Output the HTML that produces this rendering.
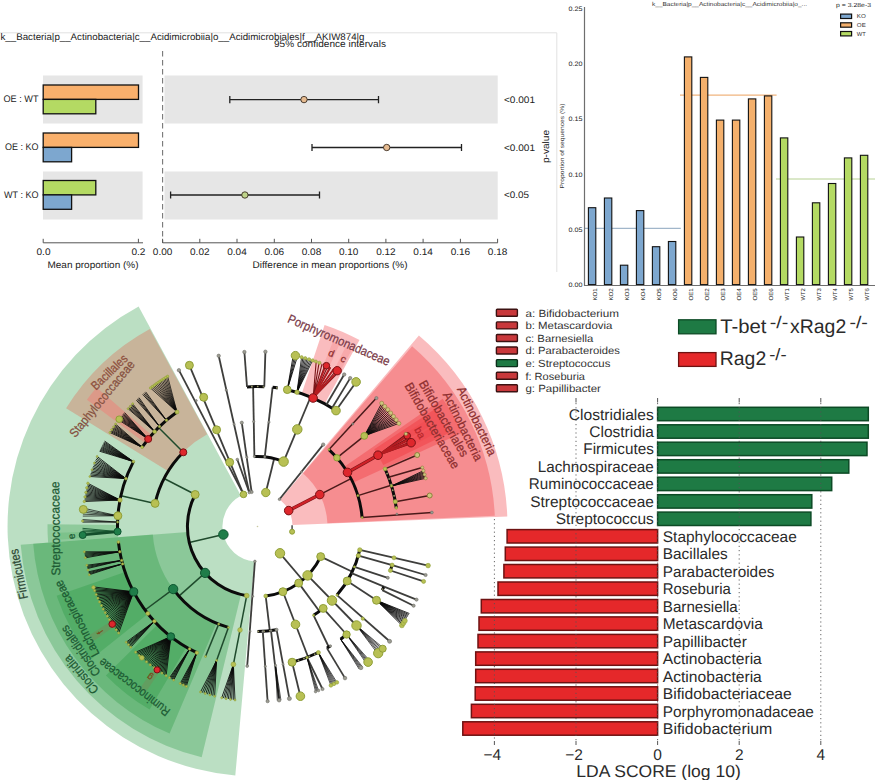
<!DOCTYPE html>
<html><head><meta charset="utf-8"><title>figure</title>
<style>html,body{margin:0;padding:0;background:#fff}svg{display:block}text{font-family:"Liberation Sans",sans-serif;text-rendering:geometricPrecision}</style></head><body>
<svg width="875" height="780" viewBox="0 0 875 780">
<rect width="875" height="780" fill="#fff"/>
<g id="pc">
<path d="M138.6 306.6A250 250 0 0 0 235.3 775.5L254.4 561.4A35 35 0 0 1 240.9 495.7Z" fill="rgb(30,148,55)" fill-opacity="0.3"/>
<path d="M20.7 544.7A237.5 237.5 0 0 0 201.7 757.3L241.0 594.5A70 70 0 0 1 187.7 531.9Z" fill="rgb(30,148,55)" fill-opacity="0.3"/>
<path d="M33.2 543.8A225 225 0 0 0 169.6 733.6L216.5 623.2A105 105 0 0 1 152.8 534.6Z" fill="rgb(30,148,55)" fill-opacity="0.3"/>
<path d="M56.6 595.7A212.5 212.5 0 0 0 91.4 659.1L148.1 613.8A140 140 0 0 1 125.1 572.1Z" fill="rgb(30,148,55)" fill-opacity="0.3"/>
<path d="M105.9 675.4A212.5 212.5 0 0 0 149.6 709.6L186.4 647.1A140 140 0 0 1 157.6 624.6Z" fill="rgb(30,148,55)" fill-opacity="0.3"/>
<path d="M47.5 524.3A210 210 0 0 0 48.1 542.6L117.9 537.2A140 140 0 0 1 117.5 525.0Z" fill="rgb(30,148,55)" fill-opacity="0.28"/>
<path d="M57.6 532.8A200 200 0 0 0 57.9 539.8L82.9 538.1A175 175 0 0 1 82.6 532.0Z" fill="rgb(30,148,55)" fill-opacity="0.15"/>
<path d="M149.8 329.0A225 225 0 0 0 66.1 408.3L168.2 471.3A105 105 0 0 1 207.2 434.3Z" fill="rgb(238,50,30)" fill-opacity="0.25"/>
<path d="M96.6 387.6A212.5 212.5 0 0 0 86.9 399.8L145.1 443.0A140 140 0 0 1 151.5 435.0Z" fill="rgb(245,120,115)" fill-opacity="0.45"/>
<path d="M89.6 635.1A200 200 0 0 0 93.5 640.9L114.0 626.6A175 175 0 0 1 110.6 621.6Z" fill="rgb(238,32,40)" fill-opacity="0.1"/>
<path d="M139.9 688.3A200 200 0 0 0 145.7 692.3L159.6 671.6A175 175 0 0 1 154.6 668.1Z" fill="rgb(238,32,40)" fill-opacity="0.1"/>
<path d="M507.3 516.5A250 250 0 0 0 418.9 335.6L280.1 499.8A35 35 0 0 1 292.5 525.1Z" fill="rgb(238,32,40)" fill-opacity="0.3"/>
<path d="M494.8 515.7A237.5 237.5 0 0 0 412.1 346.2L303.1 473.4A70 70 0 0 1 327.4 523.3Z" fill="rgb(238,32,40)" fill-opacity="0.3"/>
<path d="M462.1 432.8A225 225 0 0 0 442.7 398.7L343.9 466.9A105 105 0 0 1 353.0 482.8Z" fill="rgb(238,32,40)" fill-opacity="0.3"/>
<path d="M448.5 433.3A212.5 212.5 0 0 0 434.7 409.2L374.2 449.2A140 140 0 0 1 383.3 465.1Z" fill="rgb(238,32,40)" fill-opacity="0.3"/>
<path d="M434.7 433.8A200 200 0 0 0 431.4 427.7L409.7 440.1A175 175 0 0 1 412.6 445.4Z" fill="rgb(238,32,40)" fill-opacity="0.12"/>
<path d="M430.4 425.9A200 200 0 0 0 426.7 419.9L405.6 433.2A175 175 0 0 1 408.7 438.5Z" fill="rgb(238,32,40)" fill-opacity="0.12"/>
<path d="M359.5 340.1A212.5 212.5 0 0 0 324.6 324.9L301.7 393.7A140 140 0 0 1 324.7 403.7Z" fill="rgb(238,32,40)" fill-opacity="0.3"/>
<path d="M339.5 344.1A200 200 0 0 0 333.1 341.3L323.6 364.5A175 175 0 0 1 329.2 366.9Z" fill="rgb(238,32,40)" fill-opacity="0.12"/>
<path d="M351.7 350.1A200 200 0 0 0 345.5 346.9L334.5 369.3A175 175 0 0 1 339.9 372.1Z" fill="rgb(238,32,40)" fill-opacity="0.12"/>
<path d="M223.4 534.5L189.3 542.5" stroke="#1f4a2c" stroke-width="1.5" fill="none"/>
<path d="M195.2 494.5A70 70 0 0 0 246.7 595.7" stroke="#0b0b0b" stroke-width="3" fill="none"/>
<path d="M195.2 494.5L164.1 478.5" stroke="#1f4a2c" stroke-width="1.5" fill="none"/>
<path d="M183.3 452.3A105 105 0 0 0 155.1 503.4" stroke="#0b0b0b" stroke-width="3" fill="none"/>
<path d="M183.3 452.3L158.5 427.5" stroke="#1f4a2c" stroke-width="1.5" fill="none"/>
<path d="M177.0 412.0A140 140 0 0 0 142.1 447.2" stroke="#0b0b0b" stroke-width="3" fill="none"/>
<path d="M155.1 503.4L120.9 495.7" stroke="#1f4a2c" stroke-width="1.5" fill="none"/>
<path d="M133.4 461.6A140 140 0 0 0 117.6 531.6" stroke="#0b0b0b" stroke-width="3" fill="none"/>
<path d="M205.1 572.9L178.9 596.1" stroke="#1f4a2c" stroke-width="1.5" fill="none"/>
<path d="M173.2 589.1A105 105 0 0 0 228.4 627.4" stroke="#0b0b0b" stroke-width="3" fill="none"/>
<path d="M173.2 589.1L145.1 610.0" stroke="#1f4a2c" stroke-width="1.5" fill="none"/>
<path d="M118.4 542.1A140 140 0 0 0 196.8 652.7" stroke="#0b0b0b" stroke-width="3" fill="none"/>
<path d="M218.7 624.1L205.5 656.5" stroke="#1f4a2c" stroke-width="1.5" fill="none"/>
<path d="M228.4 627.4L216.6 660.4" stroke="#1f4a2c" stroke-width="1.5" fill="none"/>
<path d="M246.7 595.7L233.4 664.4" stroke="#1f4a2c" stroke-width="1.5" fill="none"/>
<path d="M254.9 561.4L247.2 666.1" stroke="#3e3e3c" stroke-width="1.8" fill="none"/>
<path d="M243.5 494.4L189.4 365.3" stroke="#3e3e3c" stroke-width="1.8" fill="none"/>
<path d="M243.5 494.4L178.9 370.2" stroke="#3e3e3c" stroke-width="1.8" fill="none"/>
<path d="M249.3 492.5L218.7 355.8" stroke="#3e3e3c" stroke-width="1.8" fill="none"/>
<path d="M251.6 492.0L241.8 422.7" stroke="#3e3e3c" stroke-width="1.8" fill="none"/>
<path d="M249.3 492.5L237.3 459.5" stroke="#3e3e3c" stroke-width="1.8" fill="none"/>
<path d="M265.8 492.5L274.2 458.5" stroke="#3e3e3c" stroke-width="1.8" fill="none"/>
<path d="M283.6 461.6A70 70 0 0 0 254.4 456.6" stroke="#0b0b0b" stroke-width="3" fill="none"/>
<path d="M254.4 456.6L253.1 386.6" stroke="#3e3e3c" stroke-width="1.8" fill="none"/>
<path d="M264.3 386.7A140 140 0 0 0 247.0 386.9" stroke="#0b0b0b" stroke-width="3" fill="none"/>
<path d="M264.3 386.7A140 140 0 0 0 247.0 386.9" stroke="#9a9a6a" stroke-width="1.6" stroke-dasharray="1.6 4.2" fill="none"/>
<path d="M247.0 386.9L244.4 352.0" stroke="#3e3e3c" stroke-width="1.8" fill="none"/>
<path d="M264.3 386.7L265.4 351.7" stroke="#3e3e3c" stroke-width="1.8" fill="none"/>
<path d="M264.8 456.9L272.6 387.3" stroke="#3e3e3c" stroke-width="1.8" fill="none"/>
<path d="M277.7 388.0A140 140 0 0 0 272.6 387.3" stroke="#0b0b0b" stroke-width="3" fill="none"/>
<path d="M277.7 388.0A140 140 0 0 0 272.6 387.3" stroke="#9a9a6a" stroke-width="1.6" stroke-dasharray="1.6 4.2" fill="none"/>
<path d="M283.6 461.6L310.6 397.0" stroke="#3e3e3c" stroke-width="1.8" fill="none"/>
<path d="M336.0 410.6A140 140 0 0 0 287.3 389.7" stroke="#0b0b0b" stroke-width="3" fill="none"/>
<path d="M326.4 404.7L344.2 374.5" stroke="#3e3e3c" stroke-width="1.8" fill="none"/>
<path d="M332.1 408.0L350.2 378.1" stroke="#3e3e3c" stroke-width="1.8" fill="none"/>
<path d="M336.0 410.6L356.1 381.9" stroke="#3e3e3c" stroke-width="1.8" fill="none"/>
<path d="M279.5 499.3L323.2 444.6" stroke="#3e3e3c" stroke-width="1.8" fill="none"/>
<path d="M288.7 510.6L319.8 494.6" stroke="#7e1518" stroke-width="3.4" fill="none" stroke-linecap="round"/>
<path d="M288.7 510.6L319.8 494.6" stroke="#cf2127" stroke-width="2.2" fill="none" stroke-linecap="round"/>
<path d="M319.8 494.6L351.0 478.7" stroke="#4a1a1a" stroke-width="1.5" fill="none"/>
<path d="M362.1 517.5A105 105 0 0 0 329.0 449.6" stroke="#0b0b0b" stroke-width="3" fill="none"/>
<path d="M329.0 449.6L376.4 398.1" stroke="#4a1a1a" stroke-width="1.5" fill="none"/>
<path d="M336.9 457.8L364.3 435.9" stroke="#4a1a1a" stroke-width="1.5" fill="none"/>
<path d="M347.5 472.4L378.0 455.2" stroke="#7e1518" stroke-width="3.4" fill="none" stroke-linecap="round"/>
<path d="M347.5 472.4L378.0 455.2" stroke="#cf2127" stroke-width="2.2" fill="none" stroke-linecap="round"/>
<path d="M357.9 495.6L391.3 485.3" stroke="#4a1a1a" stroke-width="1.5" fill="none"/>
<path d="M396.3 508.0A140 140 0 0 0 385.1 468.9" stroke="#0b0b0b" stroke-width="3" fill="none"/>
<path d="M396.3 508.0A140 140 0 0 0 385.1 468.9" stroke="#9a9a6a" stroke-width="1.6" stroke-dasharray="1.6 4.2" fill="none"/>
<path d="M385.1 468.9L417.2 455.0" stroke="#4a1a1a" stroke-width="1.5" fill="none"/>
<path d="M388.5 477.2L422.3 467.5" stroke="#4a1a1a" stroke-width="1.5" fill="none"/>
<path d="M395.3 501.7L429.7 495.5" stroke="#4a1a1a" stroke-width="1.5" fill="none"/>
<path d="M362.1 517.5L431.9 512.5" stroke="#4a1a1a" stroke-width="1.5" fill="none"/>
<path d="M292.1 525.2V531.7" stroke="#555" stroke-width="1.6" fill="none"/>
<path d="M280.0 553.3L302.6 580.0" stroke="#3e3e3c" stroke-width="1.8" fill="none"/>
<path d="M265.7 596.0A70 70 0 0 0 320.7 556.6" stroke="#0b0b0b" stroke-width="3" fill="none"/>
<path d="M320.7 556.6L352.3 571.7" stroke="#3e3e3c" stroke-width="1.8" fill="none"/>
<path d="M337.0 595.1A105 105 0 0 0 359.8 549.9" stroke="#0b0b0b" stroke-width="3" fill="none"/>
<path d="M359.8 549.9L428.1 565.6" stroke="#3e3e3c" stroke-width="1.8" fill="none"/>
<path d="M358.4 555.6L392.1 565.1" stroke="#3e3e3c" stroke-width="1.8" fill="none"/>
<path d="M390.4 570.5A140 140 0 0 0 392.1 565.1" stroke="#0b0b0b" stroke-width="3" fill="none"/>
<path d="M390.4 570.5A140 140 0 0 0 392.1 565.1" stroke="#9a9a6a" stroke-width="1.6" stroke-dasharray="1.6 4.2" fill="none"/>
<path d="M392.1 565.1L425.6 575.0" stroke="#3e3e3c" stroke-width="1.8" fill="none"/>
<path d="M390.4 570.5L423.6 581.4" stroke="#3e3e3c" stroke-width="1.8" fill="none"/>
<path d="M354.4 566.9L387.8 577.8" stroke="#3e3e3c" stroke-width="1.8" fill="none"/>
<path d="M351.5 573.2L384.0 586.6" stroke="#3e3e3c" stroke-width="1.8" fill="none"/>
<path d="M382.2 590.1A140 140 0 0 0 384.0 586.6" stroke="#0b0b0b" stroke-width="3" fill="none"/>
<path d="M382.2 590.1A140 140 0 0 0 384.0 586.6" stroke="#9a9a6a" stroke-width="1.6" stroke-dasharray="1.6 4.2" fill="none"/>
<path d="M384.0 586.6L416.5 599.6" stroke="#3e3e3c" stroke-width="1.8" fill="none"/>
<path d="M382.2 590.1L413.6 605.7" stroke="#3e3e3c" stroke-width="1.8" fill="none"/>
<path d="M347.2 581.0L376.5 600.3" stroke="#3e3e3c" stroke-width="1.8" fill="none"/>
<path d="M337.0 595.1L389.6 641.3" stroke="#3e3e3c" stroke-width="1.8" fill="none"/>
<path d="M307.6 575.4L356.5 625.5" stroke="#3e3e3c" stroke-width="1.8" fill="none"/>
<path d="M298.7 583.1L319.4 611.3" stroke="#3e3e3c" stroke-width="1.8" fill="none"/>
<path d="M313.6 615.3A105 105 0 0 0 323.2 608.4" stroke="#0b0b0b" stroke-width="3" fill="none"/>
<path d="M323.2 608.4L346.6 634.5" stroke="#3e3e3c" stroke-width="1.8" fill="none"/>
<path d="M340.6 639.2A140 140 0 0 0 346.6 634.5" stroke="#0b0b0b" stroke-width="3" fill="none"/>
<path d="M313.6 615.3L328.8 647.0" stroke="#3e3e3c" stroke-width="1.8" fill="none"/>
<path d="M326.9 648.1A140 140 0 0 0 330.4 646.0" stroke="#0b0b0b" stroke-width="3" fill="none"/>
<path d="M326.9 648.1L345.0 678.1" stroke="#3e3e3c" stroke-width="1.8" fill="none"/>
<path d="M282.9 591.7L308.1 657.0" stroke="#3e3e3c" stroke-width="1.8" fill="none"/>
<path d="M292.1 662.2A140 140 0 0 0 318.4 652.5" stroke="#0b0b0b" stroke-width="3" fill="none"/>
<path d="M292.1 662.2A140 140 0 0 0 318.4 652.5" stroke="#9a9a6a" stroke-width="1.6" stroke-dasharray="1.6 4.2" fill="none"/>
<path d="M307.0 657.5L322.5 689.0" stroke="#3e3e3c" stroke-width="1.8" fill="none"/>
<path d="M292.1 662.2L300.4 696.2" stroke="#3e3e3c" stroke-width="1.8" fill="none"/>
<path d="M265.7 596.0L269.8 630.8" stroke="#3e3e3c" stroke-width="1.8" fill="none"/>
<path d="M257.5 631.5A105 105 0 0 0 276.6 629.7" stroke="#0b0b0b" stroke-width="3" fill="none"/>
<path d="M257.5 631.5A105 105 0 0 0 276.6 629.7" stroke="#9a9a6a" stroke-width="1.6" stroke-dasharray="1.6 4.2" fill="none"/>
<path d="M262.8 631.4L267.6 701.2" stroke="#3e3e3c" stroke-width="1.8" fill="none"/>
<path d="M271.0 630.6L279.1 700.2" stroke="#3e3e3c" stroke-width="1.8" fill="none"/>
<path d="M276.6 629.7L289.4 698.6" stroke="#3e3e3c" stroke-width="1.8" fill="none"/>
<path d="M142.1 447.2L115.6 424.1M142.1 447.2L114.9 425.0M142.1 447.2L114.3 426.0M142.1 447.2L113.6 426.9M142.1 447.2L113.0 427.8M142.1 447.2L112.4 428.7M142.1 447.2L111.7 429.7M142.1 447.2L111.1 430.6M142.1 447.2L110.5 431.5M142.1 447.2L109.9 432.5" stroke="#0a0a0a" stroke-width="0.85" fill="none"/>
<path d="M148.2 439.0L124.6 412.6M148.2 439.0L123.9 413.4M148.2 439.0L123.3 414.2M148.2 439.0L122.6 415.0M148.2 439.0L121.9 415.8M148.2 439.0L121.3 416.7M148.2 439.0L120.6 417.5M148.2 439.0L120.0 418.3M148.2 439.0L119.3 419.1M148.2 439.0L118.7 420.0" stroke="#0a0a0a" stroke-width="0.85" fill="none"/>
<path d="M154.6 431.6L132.7 403.8M154.6 431.6L131.9 404.6M154.6 431.6L131.1 405.4M154.6 431.6L130.3 406.3M154.6 431.6L129.6 407.1M154.6 431.6L128.8 407.9M154.6 431.6L128.1 408.7" stroke="#0a0a0a" stroke-width="0.85" fill="none"/>
<path d="M159.5 426.5L139.0 397.7M159.5 426.5L138.2 398.5M159.5 426.5L137.3 399.3M159.5 426.5L136.4 400.2" stroke="#0a0a0a" stroke-width="0.85" fill="none"/>
<path d="M166.4 420.2L145.7 391.9M166.4 420.2L144.7 392.7M166.4 420.2L143.7 393.6M166.4 420.2L142.7 394.4" stroke="#0a0a0a" stroke-width="0.85" fill="none"/>
<path d="M177.0 412.0L167.6 376.3M177.0 412.0L166.3 377.2M177.0 412.0L164.9 378.0M177.0 412.0L163.6 378.9M177.0 412.0L162.2 379.7M177.0 412.0L160.9 380.6M177.0 412.0L159.5 381.5M177.0 412.0L158.2 382.4M177.0 412.0L156.9 383.3M177.0 412.0L155.6 384.2M177.0 412.0L154.3 385.2M177.0 412.0L153.0 386.1M177.0 412.0L151.8 387.1M177.0 412.0L150.5 388.0" stroke="#0a0a0a" stroke-width="0.75" fill="none"/>
<path d="M133.4 461.6L104.7 441.1M133.4 461.6L104.2 442.0M133.4 461.6L103.7 442.9M133.4 461.6L103.3 443.8M133.4 461.6L102.8 444.7M133.4 461.6L102.3 445.6M133.4 461.6L101.8 446.6M133.4 461.6L101.4 447.5M133.4 461.6L100.9 448.4M133.4 461.6L100.4 449.3M133.4 461.6L100.0 450.2M133.4 461.6L99.5 451.2" stroke="#0a0a0a" stroke-width="0.85" fill="none"/>
<path d="M125.9 478.6L97.1 456.4M125.9 478.6L96.5 457.8M125.9 478.6L95.9 459.2M125.9 478.6L95.4 460.7M125.9 478.6L94.8 462.1M125.9 478.6L94.2 463.5M125.9 478.6L93.7 464.9M125.9 478.6L93.2 466.4M125.9 478.6L92.6 467.8M125.9 478.6L92.1 469.2M125.9 478.6L91.6 470.7M125.9 478.6L91.2 472.1M125.9 478.6L90.7 473.6M125.9 478.6L90.2 475.0M125.9 478.6L89.8 476.5" stroke="#0a0a0a" stroke-width="0.85" fill="none"/>
<path d="M120.0 500.0L87.9 483.3M120.0 500.0L87.6 484.6M120.0 500.0L87.3 485.9M120.0 500.0L87.0 487.2M120.0 500.0L86.7 488.5M120.0 500.0L86.4 489.8M120.0 500.0L86.1 491.1M120.0 500.0L85.9 492.4M120.0 500.0L85.6 493.7M120.0 500.0L85.4 495.0M120.0 500.0L85.1 496.3M120.0 500.0L84.9 497.6M120.0 500.0L84.7 498.9M120.0 500.0L84.5 500.2M120.0 500.0L84.3 501.5" stroke="#0a0a0a" stroke-width="0.85" fill="none"/>
<path d="M117.9 515.8L83.5 508.2M117.9 515.8L83.3 510.2M117.9 515.8L83.1 512.2M117.9 515.8L82.9 514.1M117.9 515.8L82.8 516.1" stroke="#0a0a0a" stroke-width="0.7" fill="none"/>
<path d="M117.6 522.1L82.6 519.5M117.6 522.1L82.6 520.9M117.6 522.1L82.6 522.2" stroke="#0a0a0a" stroke-width="0.7" fill="none"/>
<path d="M117.6 531.6L82.5 528.3M117.6 531.6L82.5 530.0M117.6 531.6L82.6 531.7M117.6 531.6L82.6 533.4M117.6 531.6L82.7 535.0" stroke="#14522e" stroke-width="0.9" fill="none"/>
<path d="M117.6 531.6L82.7 535.0" stroke="#134d2b" stroke-width="2.6" fill="none"/>
<path d="M119.8 551.8L84.3 551.8M119.8 551.8L84.5 553.0M119.8 551.8L84.7 554.2M119.8 551.8L84.9 555.4M119.8 551.8L85.1 556.6M119.8 551.8L85.3 557.8" stroke="#0a0a0a" stroke-width="0.85" fill="none"/>
<path d="M121.7 560.4L86.8 565.3M121.7 560.4L87.1 566.4M121.7 560.4L87.4 567.5M121.7 560.4L87.6 568.5" stroke="#0a0a0a" stroke-width="0.85" fill="none"/>
<path d="M122.6 563.9L88.5 571.8M122.6 563.9L88.7 572.8M122.6 563.9L89.0 573.8M122.6 563.9L89.3 574.7" stroke="#0a0a0a" stroke-width="0.85" fill="none"/>
<path d="M133.7 591.8L93.3 586.9M133.7 591.8L93.9 588.5M133.7 591.8L94.5 590.1M133.7 591.8L95.1 591.7M133.7 591.8L95.7 593.3M133.7 591.8L96.4 594.9M133.7 591.8L97.1 596.4M133.7 591.8L97.8 598.0M133.7 591.8L98.5 599.5M133.7 591.8L99.2 601.1M133.7 591.8L99.9 602.6M133.7 591.8L100.7 604.1M133.7 591.8L101.4 605.7M133.7 591.8L102.2 607.2M133.7 591.8L103.0 608.7M133.7 591.8L103.8 610.2M133.7 591.8L104.6 611.7M133.7 591.8L105.5 613.2M133.7 591.8L106.3 614.6M133.7 591.8L107.2 616.1M133.7 591.8L108.1 617.6M133.7 591.8L109.0 619.0M133.7 591.8L109.9 620.5M133.7 591.8L110.8 621.9M133.7 591.8L111.7 623.3M133.7 591.8L112.7 624.7M133.7 591.8L113.6 626.1M133.7 591.8L114.6 627.5M133.7 591.8L115.6 628.9M133.7 591.8L116.6 630.3M133.7 591.8L117.6 631.7M133.7 591.8L118.7 633.0" stroke="#0a0a0a" stroke-width="0.85" fill="none"/>
<path d="M154.4 621.3L126.2 642.2M154.4 621.3L127.0 643.1M154.4 621.3L127.7 643.9M154.4 621.3L128.5 644.7M154.4 621.3L129.2 645.6M154.4 621.3L130.0 646.4M154.4 621.3L130.8 647.2" stroke="#0a0a0a" stroke-width="0.85" fill="none"/>
<path d="M170.9 636.5L135.7 652.2M170.9 636.5L136.8 653.2M170.9 636.5L137.9 654.3M170.9 636.5L139.1 655.3M170.9 636.5L140.2 656.4M170.9 636.5L141.4 657.4M170.9 636.5L142.5 658.4M170.9 636.5L143.7 659.4M170.9 636.5L144.9 660.4M170.9 636.5L146.0 661.4M170.9 636.5L147.2 662.4M170.9 636.5L148.4 663.3M170.9 636.5L149.6 664.3M170.9 636.5L150.9 665.2M170.9 636.5L152.1 666.2M170.9 636.5L153.3 667.1M170.9 636.5L154.5 668.0M170.9 636.5L155.8 668.9M170.9 636.5L157.1 669.8M170.9 636.5L158.3 670.7M170.9 636.5L159.6 671.5M170.9 636.5L160.9 672.4M170.9 636.5L162.2 673.2M170.9 636.5L163.5 674.1M170.9 636.5L164.8 674.9M170.9 636.5L166.1 675.7" stroke="#0a0a0a" stroke-width="0.85" fill="none"/>
<path d="M189.6 648.9L169.5 677.7M189.6 648.9L170.3 678.2M189.6 648.9L171.2 678.7M189.6 648.9L172.0 679.2M189.6 648.9L172.9 679.7M189.6 648.9L173.7 680.1" stroke="#0a0a0a" stroke-width="0.85" fill="none"/>
<path d="M196.8 652.7L180.2 683.5M196.8 652.7L181.2 684.0M196.8 652.7L182.3 684.5M196.8 652.7L183.3 685.0M196.8 652.7L184.3 685.4M196.8 652.7L185.3 685.9M196.8 652.7L186.3 686.4" stroke="#0a0a0a" stroke-width="0.85" fill="none"/>
<path d="M216.6 660.4L200.5 692.0M216.6 660.4L202.3 692.6M216.6 660.4L204.0 693.1M216.6 660.4L205.8 693.7M216.6 660.4L207.5 694.2M216.6 660.4L209.3 694.7M216.6 660.4L211.0 695.2M216.6 660.4L212.8 695.7M216.6 660.4L214.6 696.2" stroke="#0a0a0a" stroke-width="0.85" fill="none"/>
<path d="M233.4 664.4L221.7 697.8M233.4 664.4L223.4 698.1M233.4 664.4L225.0 698.5M233.4 664.4L226.7 698.8M233.4 664.4L228.3 699.0M233.4 664.4L230.0 699.3M233.4 664.4L231.6 699.6M233.4 664.4L233.3 699.8M233.4 664.4L235.0 700.0" stroke="#0a0a0a" stroke-width="0.85" fill="none"/>
<path d="M287.3 389.7L297.5 356.1M287.3 389.7L296.1 355.8M287.3 389.7L294.7 355.5M287.3 389.7L293.3 355.2" stroke="#0a0a0a" stroke-width="0.9" fill="none"/>
<path d="M297.0 392.2L312.7 360.4M297.0 392.2L311.4 360.0M297.0 392.2L310.0 359.6M297.0 392.2L308.6 359.1M297.0 392.2L307.2 358.7M297.0 392.2L305.8 358.3M297.0 392.2L304.4 357.9M297.0 392.2L303.0 357.5M297.0 392.2L301.6 357.2" stroke="#0a0a0a" stroke-width="0.85" fill="none"/>
<path d="M313.1 398.0L339.1 371.7M313.1 398.0L336.3 370.3M313.1 398.0L333.5 368.9M313.1 398.0L330.7 367.5M313.1 398.0L327.8 366.3M313.1 398.0L325.0 365.0M313.1 398.0L322.1 363.8M313.1 398.0L319.1 362.7M313.1 398.0L316.2 361.6" stroke="#7a1518" stroke-width="1.1" fill="none"/>
<path d="M313.1 398.0L338.0 371.1M313.1 398.0L334.0 369.1M313.1 398.0L330.0 367.2M313.1 398.0L325.9 365.4" stroke="#b41c20" stroke-width="1.6" fill="none"/>
<path d="M364.3 435.9L398.9 423.4M364.3 435.9L397.8 422.0M364.3 435.9L396.8 420.5M364.3 435.9L395.7 419.1M364.3 435.9L394.6 417.8M364.3 435.9L393.5 416.4M364.3 435.9L392.4 415.0M364.3 435.9L391.2 413.6M364.3 435.9L390.1 412.3M364.3 435.9L388.9 411.0M364.3 435.9L387.8 409.6M364.3 435.9L386.6 408.3M364.3 435.9L385.4 407.0M364.3 435.9L384.1 405.7M364.3 435.9L382.9 404.5M364.3 435.9L381.7 403.2" stroke="#0a0a0a" stroke-width="0.85" fill="none"/>
<path d="M378.0 455.2L411.6 443.5M378.0 455.2L410.6 441.7M378.0 455.2L409.5 439.8M378.0 455.2L408.4 437.9M378.0 455.2L407.3 436.1M378.0 455.2L406.2 434.3" stroke="#7a1518" stroke-width="1.2" fill="none"/>
<path d="M378.0 455.2L411.1 442.7M378.0 455.2L409.2 439.3M378.0 455.2L407.2 435.8" stroke="#b41c20" stroke-width="1.8" fill="none"/>
<path d="M391.5 486.0L425.7 478.3M391.5 486.0L425.4 477.2M391.5 486.0L425.1 476.1M391.5 486.0L424.8 475.0M391.5 486.0L424.4 473.9M391.5 486.0L424.1 472.8M391.5 486.0L423.7 471.8M391.5 486.0L423.4 470.7" stroke="#0a0a0a" stroke-width="0.85" fill="none"/>
<path d="M376.5 600.3L401.9 625.4M376.5 600.3L402.6 624.4M376.5 600.3L403.2 623.4M376.5 600.3L403.9 622.5M376.5 600.3L404.5 621.5M376.5 600.3L405.1 620.5M376.5 600.3L405.7 619.5M376.5 600.3L406.4 618.5M376.5 600.3L407.0 617.5M376.5 600.3L407.6 616.5M376.5 600.3L408.2 615.5M376.5 600.3L408.8 614.5M376.5 600.3L409.4 613.5" stroke="#0a0a0a" stroke-width="0.85" fill="none"/>
<path d="M356.5 625.5L377.7 653.7M356.5 625.5L378.7 652.7M356.5 625.5L379.6 651.8M356.5 625.5L380.6 650.9M356.5 625.5L381.5 650.0M356.5 625.5L382.5 649.0M356.5 625.5L383.4 648.1" stroke="#0a0a0a" stroke-width="0.7" fill="none"/>
<path d="M346.6 634.5L366.4 663.5M346.6 634.5L367.3 662.8M346.6 634.5L368.1 662.1M346.6 634.5L368.9 661.4M346.6 634.5L369.8 660.8" stroke="#0a0a0a" stroke-width="0.7" fill="none"/>
<path d="M340.6 639.2L359.1 669.0M340.6 639.2L359.9 668.4M340.6 639.2L360.7 667.8M340.6 639.2L361.5 667.2M340.6 639.2L362.3 666.6" stroke="#0a0a0a" stroke-width="0.7" fill="none"/>
<path d="M318.4 652.5L330.9 685.4M318.4 652.5L331.9 684.9M318.4 652.5L332.9 684.4M318.4 652.5L333.9 683.9M318.4 652.5L334.9 683.4M318.4 652.5L335.9 682.9M318.4 652.5L336.9 682.4" stroke="#0a0a0a" stroke-width="0.7" fill="none"/>
<path d="M307.0 657.5L315.6 691.6M307.0 657.5L316.6 691.2M307.0 657.5L317.5 690.9M307.0 657.5L318.5 690.5" stroke="#0a0a0a" stroke-width="0.7" fill="none"/>
<path d="M275.5 665.3L277.3 700.4M275.5 665.3L278.5 700.2M275.5 665.3L279.7 700.1M275.5 665.3L280.9 699.9" stroke="#0a0a0a" stroke-width="0.7" fill="none"/>
<circle cx="167.6" cy="376.3" r="1.2" fill="#b8c054" stroke="#8f9f37" stroke-width="0.6"/>
<circle cx="165.7" cy="377.5" r="1.2" fill="#b8c054" stroke="#8f9f37" stroke-width="0.6"/>
<circle cx="163.7" cy="378.8" r="1.2" fill="#b8c054" stroke="#8f9f37" stroke-width="0.6"/>
<circle cx="161.8" cy="380.0" r="1.2" fill="#b8c054" stroke="#8f9f37" stroke-width="0.6"/>
<circle cx="159.8" cy="381.3" r="1.2" fill="#b8c054" stroke="#8f9f37" stroke-width="0.6"/>
<circle cx="157.9" cy="382.6" r="1.2" fill="#b8c054" stroke="#8f9f37" stroke-width="0.6"/>
<circle cx="156.0" cy="383.9" r="1.2" fill="#b8c054" stroke="#8f9f37" stroke-width="0.6"/>
<circle cx="154.2" cy="385.3" r="1.2" fill="#b8c054" stroke="#8f9f37" stroke-width="0.6"/>
<circle cx="152.3" cy="386.6" r="1.2" fill="#b8c054" stroke="#8f9f37" stroke-width="0.6"/>
<circle cx="150.5" cy="388.0" r="1.2" fill="#b8c054" stroke="#8f9f37" stroke-width="0.6"/>
<circle cx="115.6" cy="424.1" r="1.0" fill="#b8c054" stroke="#8f9f37" stroke-width="0.6"/>
<circle cx="113.6" cy="426.9" r="1.0" fill="#b8c054" stroke="#8f9f37" stroke-width="0.6"/>
<circle cx="111.7" cy="429.7" r="1.0" fill="#b8c054" stroke="#8f9f37" stroke-width="0.6"/>
<circle cx="109.9" cy="432.5" r="1.0" fill="#b8c054" stroke="#8f9f37" stroke-width="0.6"/>
<circle cx="132.7" cy="403.8" r="1.0" fill="#b8c054" stroke="#8f9f37" stroke-width="0.6"/>
<circle cx="130.3" cy="406.3" r="1.0" fill="#b8c054" stroke="#8f9f37" stroke-width="0.6"/>
<circle cx="128.1" cy="408.7" r="1.0" fill="#b8c054" stroke="#8f9f37" stroke-width="0.6"/>
<circle cx="87.9" cy="483.3" r="1.2" fill="#b8c054" stroke="#8f9f37" stroke-width="0.6"/>
<circle cx="86.8" cy="487.8" r="1.2" fill="#b8c054" stroke="#8f9f37" stroke-width="0.6"/>
<circle cx="85.9" cy="492.4" r="1.2" fill="#b8c054" stroke="#8f9f37" stroke-width="0.6"/>
<circle cx="85.0" cy="496.9" r="1.2" fill="#b8c054" stroke="#8f9f37" stroke-width="0.6"/>
<circle cx="84.3" cy="501.5" r="1.2" fill="#b8c054" stroke="#8f9f37" stroke-width="0.6"/>
<circle cx="97.1" cy="456.4" r="0.9" fill="#b8c054" stroke="#8f9f37" stroke-width="0.6"/>
<circle cx="94.4" cy="463.0" r="0.9" fill="#b8c054" stroke="#8f9f37" stroke-width="0.6"/>
<circle cx="92.0" cy="469.7" r="0.9" fill="#b8c054" stroke="#8f9f37" stroke-width="0.6"/>
<circle cx="89.8" cy="476.5" r="0.9" fill="#b8c054" stroke="#8f9f37" stroke-width="0.6"/>
<circle cx="93.3" cy="586.9" r="1.1" fill="#b8c054" stroke="#8f9f37" stroke-width="0.6"/>
<circle cx="94.7" cy="590.7" r="1.1" fill="#b8c054" stroke="#8f9f37" stroke-width="0.6"/>
<circle cx="96.2" cy="594.5" r="1.1" fill="#b8c054" stroke="#8f9f37" stroke-width="0.6"/>
<circle cx="97.9" cy="598.2" r="1.1" fill="#b8c054" stroke="#8f9f37" stroke-width="0.6"/>
<circle cx="99.6" cy="601.9" r="1.1" fill="#b8c054" stroke="#8f9f37" stroke-width="0.6"/>
<circle cx="101.4" cy="605.6" r="1.1" fill="#b8c054" stroke="#8f9f37" stroke-width="0.6"/>
<circle cx="103.2" cy="609.2" r="1.1" fill="#b8c054" stroke="#8f9f37" stroke-width="0.6"/>
<circle cx="105.2" cy="612.7" r="1.1" fill="#b8c054" stroke="#8f9f37" stroke-width="0.6"/>
<circle cx="107.3" cy="616.2" r="1.1" fill="#b8c054" stroke="#8f9f37" stroke-width="0.6"/>
<circle cx="109.4" cy="619.7" r="1.1" fill="#b8c054" stroke="#8f9f37" stroke-width="0.6"/>
<circle cx="111.6" cy="623.1" r="1.1" fill="#b8c054" stroke="#8f9f37" stroke-width="0.6"/>
<circle cx="113.9" cy="626.5" r="1.1" fill="#b8c054" stroke="#8f9f37" stroke-width="0.6"/>
<circle cx="116.2" cy="629.8" r="1.1" fill="#b8c054" stroke="#8f9f37" stroke-width="0.6"/>
<circle cx="118.7" cy="633.0" r="1.1" fill="#b8c054" stroke="#8f9f37" stroke-width="0.6"/>
<circle cx="135.7" cy="652.2" r="1.1" fill="#b8c054" stroke="#8f9f37" stroke-width="0.6"/>
<circle cx="139.2" cy="655.5" r="1.1" fill="#b8c054" stroke="#8f9f37" stroke-width="0.6"/>
<circle cx="142.8" cy="658.7" r="1.1" fill="#b8c054" stroke="#8f9f37" stroke-width="0.6"/>
<circle cx="146.5" cy="661.8" r="1.1" fill="#b8c054" stroke="#8f9f37" stroke-width="0.6"/>
<circle cx="150.2" cy="664.8" r="1.1" fill="#b8c054" stroke="#8f9f37" stroke-width="0.6"/>
<circle cx="154.1" cy="667.7" r="1.1" fill="#b8c054" stroke="#8f9f37" stroke-width="0.6"/>
<circle cx="158.0" cy="670.5" r="1.1" fill="#b8c054" stroke="#8f9f37" stroke-width="0.6"/>
<circle cx="162.0" cy="673.1" r="1.1" fill="#b8c054" stroke="#8f9f37" stroke-width="0.6"/>
<circle cx="166.1" cy="675.7" r="1.1" fill="#b8c054" stroke="#8f9f37" stroke-width="0.6"/>
<circle cx="84.3" cy="551.8" r="1.0" fill="#b8c054" stroke="#8f9f37" stroke-width="0.6"/>
<circle cx="85.3" cy="557.8" r="1.0" fill="#b8c054" stroke="#8f9f37" stroke-width="0.6"/>
<circle cx="86.8" cy="565.3" r="1.0" fill="#b8c054" stroke="#8f9f37" stroke-width="0.6"/>
<circle cx="88.0" cy="570.0" r="1.0" fill="#b8c054" stroke="#8f9f37" stroke-width="0.6"/>
<circle cx="89.3" cy="574.7" r="1.0" fill="#b8c054" stroke="#8f9f37" stroke-width="0.6"/>
<circle cx="126.2" cy="642.2" r="1.0" fill="#b8c054" stroke="#8f9f37" stroke-width="0.6"/>
<circle cx="128.5" cy="644.7" r="1.0" fill="#b8c054" stroke="#8f9f37" stroke-width="0.6"/>
<circle cx="130.8" cy="647.2" r="1.0" fill="#b8c054" stroke="#8f9f37" stroke-width="0.6"/>
<circle cx="169.5" cy="677.7" r="1.0" fill="#b8c054" stroke="#8f9f37" stroke-width="0.6"/>
<circle cx="173.7" cy="680.1" r="1.0" fill="#b8c054" stroke="#8f9f37" stroke-width="0.6"/>
<circle cx="180.2" cy="683.5" r="1.1" fill="#b8c054" stroke="#8f9f37" stroke-width="0.6"/>
<circle cx="183.3" cy="685.0" r="1.1" fill="#b8c054" stroke="#8f9f37" stroke-width="0.6"/>
<circle cx="186.3" cy="686.4" r="1.1" fill="#b8c054" stroke="#8f9f37" stroke-width="0.6"/>
<circle cx="200.5" cy="692.0" r="1.0" fill="#b8c054" stroke="#8f9f37" stroke-width="0.6"/>
<circle cx="205.2" cy="693.5" r="1.0" fill="#b8c054" stroke="#8f9f37" stroke-width="0.6"/>
<circle cx="209.9" cy="694.9" r="1.0" fill="#b8c054" stroke="#8f9f37" stroke-width="0.6"/>
<circle cx="214.6" cy="696.2" r="1.0" fill="#b8c054" stroke="#8f9f37" stroke-width="0.6"/>
<circle cx="221.7" cy="697.8" r="1.0" fill="#b8c054" stroke="#8f9f37" stroke-width="0.6"/>
<circle cx="226.1" cy="698.7" r="1.0" fill="#b8c054" stroke="#8f9f37" stroke-width="0.6"/>
<circle cx="230.5" cy="699.4" r="1.0" fill="#b8c054" stroke="#8f9f37" stroke-width="0.6"/>
<circle cx="235.0" cy="700.0" r="1.0" fill="#b8c054" stroke="#8f9f37" stroke-width="0.6"/>
<circle cx="223.4" cy="534.5" r="4.73" fill="#1f7d49" stroke="#0e5630" stroke-width="1.0"/>
<circle cx="195.2" cy="494.5" r="3.96" fill="#b8c054" stroke="#8f9f37" stroke-width="1.0"/>
<circle cx="205.1" cy="572.9" r="4.62" fill="#1f7d49" stroke="#0e5630" stroke-width="1.0"/>
<circle cx="246.7" cy="595.7" r="2.4" fill="#b8c054" stroke="#8f9f37" stroke-width="0.6"/>
<circle cx="183.3" cy="452.3" r="3.52" fill="#de272c" stroke="#7a1115" stroke-width="1.0"/>
<circle cx="155.1" cy="503.4" r="3.96" fill="#b8c054" stroke="#8f9f37" stroke-width="1.0"/>
<circle cx="142.1" cy="447.2" r="1.4" fill="#b8c054" stroke="#8f9f37" stroke-width="0.6"/>
<circle cx="148.2" cy="439.0" r="3.52" fill="#de272c" stroke="#7a1115" stroke-width="1.0"/>
<circle cx="154.6" cy="431.6" r="1.9" fill="#b8c054" stroke="#8f9f37" stroke-width="0.6"/>
<circle cx="159.5" cy="426.5" r="1.2" fill="#b8c054" stroke="#8f9f37" stroke-width="0.6"/>
<circle cx="166.4" cy="420.2" r="1.2" fill="#b8c054" stroke="#8f9f37" stroke-width="0.6"/>
<circle cx="177.0" cy="412.0" r="2.0" fill="#b8c054" stroke="#8f9f37" stroke-width="0.6"/>
<circle cx="119.2" cy="419.2" r="3.3" fill="#b8c054" stroke="#8f9f37" stroke-width="1.0"/>
<circle cx="133.4" cy="461.6" r="1.4" fill="#b8c054" stroke="#8f9f37" stroke-width="0.6"/>
<circle cx="125.9" cy="478.6" r="1.4" fill="#b8c054" stroke="#8f9f37" stroke-width="0.6"/>
<circle cx="120.0" cy="500.0" r="2.2" fill="#b8c054" stroke="#8f9f37" stroke-width="0.6"/>
<circle cx="117.9" cy="515.8" r="3.96" fill="#b8c054" stroke="#8f9f37" stroke-width="1.0"/>
<circle cx="117.6" cy="522.1" r="1.0" fill="#b8c054" stroke="#8f9f37" stroke-width="0.6"/>
<circle cx="117.6" cy="531.6" r="3.52" fill="#1f7d49" stroke="#0e5630" stroke-width="1.0"/>
<circle cx="83.3" cy="509.4" r="3.96" fill="#b8c054" stroke="#8f9f37" stroke-width="1.0"/>
<circle cx="82.7" cy="535.0" r="3.52" fill="#1f7d49" stroke="#0e5630" stroke-width="1.0"/>
<circle cx="82.6" cy="521.0" r="1.1" fill="#b8c054" stroke="#8f9f37" stroke-width="0.6"/>
<circle cx="173.2" cy="589.1" r="4.62" fill="#1f7d49" stroke="#0e5630" stroke-width="1.0"/>
<circle cx="218.7" cy="624.1" r="1.0" fill="#b8c054" stroke="#8f9f37" stroke-width="0.6"/>
<circle cx="228.4" cy="627.4" r="1.0" fill="#b8c054" stroke="#8f9f37" stroke-width="0.6"/>
<circle cx="118.4" cy="542.1" r="1.4" fill="#b8c054" stroke="#8f9f37" stroke-width="0.6"/>
<circle cx="119.8" cy="551.8" r="1.2" fill="#b8c054" stroke="#8f9f37" stroke-width="0.6"/>
<circle cx="121.7" cy="560.4" r="1.2" fill="#b8c054" stroke="#8f9f37" stroke-width="0.6"/>
<circle cx="122.6" cy="563.9" r="1.2" fill="#b8c054" stroke="#8f9f37" stroke-width="0.6"/>
<circle cx="133.7" cy="591.8" r="4.07" fill="#1f7d49" stroke="#0e5630" stroke-width="1.0"/>
<circle cx="147.8" cy="613.5" r="2.0" fill="#b8c054" stroke="#8f9f37" stroke-width="0.6"/>
<circle cx="154.4" cy="621.3" r="1.8" fill="#b8c054" stroke="#8f9f37" stroke-width="0.6"/>
<circle cx="170.9" cy="636.5" r="3.74" fill="#1f7d49" stroke="#0e5630" stroke-width="1.0"/>
<circle cx="189.6" cy="648.9" r="1.3" fill="#b8c054" stroke="#8f9f37" stroke-width="0.6"/>
<circle cx="196.8" cy="652.7" r="1.8" fill="#b8c054" stroke="#8f9f37" stroke-width="0.6"/>
<circle cx="112.2" cy="624.1" r="3.3" fill="#de272c" stroke="#7a1115" stroke-width="1.0"/>
<circle cx="157.1" cy="669.9" r="3.08" fill="#de272c" stroke="#7a1115" stroke-width="1.0"/>
<circle cx="141.8" cy="657.8" r="2.4" fill="#b8c054" stroke="#8f9f37" stroke-width="0.6"/>
<circle cx="93.5" cy="587.5" r="1.8" fill="#b8c054" stroke="#8f9f37" stroke-width="0.6"/>
<circle cx="205.5" cy="656.5" r="1.0" fill="#b8c054" stroke="#8f9f37" stroke-width="0.6"/>
<circle cx="216.6" cy="660.4" r="1.0" fill="#b8c054" stroke="#8f9f37" stroke-width="0.6"/>
<circle cx="240.0" cy="630.0" r="2.3" fill="#b8c054" stroke="#8f9f37" stroke-width="0.6"/>
<circle cx="233.4" cy="664.4" r="2.4" fill="#b8c054" stroke="#8f9f37" stroke-width="0.6"/>
<circle cx="254.9" cy="561.4" r="1.3" fill="#9c9c92" stroke="#6d6d66" stroke-width="0.6"/>
<circle cx="247.2" cy="666.1" r="1.4" fill="#9c9c92" stroke="#6d6d66" stroke-width="0.6"/>
<circle cx="252.9" cy="596.3" r="0.9" fill="#9c9c92" stroke="#6d6d66" stroke-width="0.6"/>
<circle cx="250.2" cy="631.2" r="0.9" fill="#9c9c92" stroke="#6d6d66" stroke-width="0.6"/>
<circle cx="243.5" cy="494.4" r="3.3" fill="#b8c054" stroke="#8f9f37" stroke-width="1.0"/>
<circle cx="229.7" cy="462.3" r="3.96" fill="#b8c054" stroke="#8f9f37" stroke-width="1.0"/>
<circle cx="216.6" cy="429.8" r="3.96" fill="#b8c054" stroke="#8f9f37" stroke-width="1.0"/>
<circle cx="203.7" cy="397.3" r="3.96" fill="#b8c054" stroke="#8f9f37" stroke-width="1.0"/>
<circle cx="189.4" cy="365.3" r="3.96" fill="#b8c054" stroke="#8f9f37" stroke-width="1.0"/>
<circle cx="178.9" cy="370.2" r="1.7" fill="#9c9c92" stroke="#6d6d66" stroke-width="0.6"/>
<circle cx="196.3" cy="400.6" r="1.0" fill="#9c9c92" stroke="#6d6d66" stroke-width="0.6"/>
<circle cx="218.7" cy="355.8" r="1.7" fill="#9c9c92" stroke="#6d6d66" stroke-width="0.6"/>
<circle cx="226.2" cy="390.0" r="1.1" fill="#9c9c92" stroke="#6d6d66" stroke-width="0.6"/>
<circle cx="234.1" cy="424.2" r="1.1" fill="#9c9c92" stroke="#6d6d66" stroke-width="0.6"/>
<circle cx="241.8" cy="422.7" r="1.6" fill="#9c9c92" stroke="#6d6d66" stroke-width="0.6"/>
<circle cx="246.8" cy="457.3" r="1.1" fill="#9c9c92" stroke="#6d6d66" stroke-width="0.6"/>
<circle cx="237.3" cy="459.5" r="1.3" fill="#9c9c92" stroke="#6d6d66" stroke-width="0.6"/>
<circle cx="251.6" cy="492.0" r="1.6" fill="#9c9c92" stroke="#6d6d66" stroke-width="0.6"/>
<circle cx="249.3" cy="492.5" r="1.3" fill="#9c9c92" stroke="#6d6d66" stroke-width="0.6"/>
<circle cx="312.7" cy="360.4" r="1.6" fill="#b8c054" stroke="#8f9f37" stroke-width="0.6"/>
<circle cx="309.1" cy="359.3" r="1.6" fill="#b8c054" stroke="#8f9f37" stroke-width="0.6"/>
<circle cx="305.3" cy="358.2" r="1.6" fill="#b8c054" stroke="#8f9f37" stroke-width="0.6"/>
<circle cx="301.6" cy="357.2" r="1.6" fill="#b8c054" stroke="#8f9f37" stroke-width="0.6"/>
<circle cx="265.8" cy="492.5" r="4.18" fill="#b8c054" stroke="#8f9f37" stroke-width="1.0"/>
<circle cx="283.6" cy="461.6" r="4.73" fill="#b8c054" stroke="#8f9f37" stroke-width="1.0"/>
<circle cx="264.8" cy="456.9" r="1.1" fill="#9c9c92" stroke="#6d6d66" stroke-width="0.6"/>
<circle cx="254.4" cy="456.6" r="1.1" fill="#9c9c92" stroke="#6d6d66" stroke-width="0.6"/>
<circle cx="253.7" cy="421.6" r="1.1" fill="#9c9c92" stroke="#6d6d66" stroke-width="0.6"/>
<circle cx="269.0" cy="422.1" r="1.1" fill="#9c9c92" stroke="#6d6d66" stroke-width="0.6"/>
<circle cx="297.3" cy="429.4" r="4.73" fill="#b8c054" stroke="#8f9f37" stroke-width="1.0"/>
<circle cx="244.4" cy="352.0" r="1.7" fill="#9c9c92" stroke="#6d6d66" stroke-width="0.6"/>
<circle cx="265.4" cy="351.7" r="1.7" fill="#9c9c92" stroke="#6d6d66" stroke-width="0.6"/>
<circle cx="287.3" cy="389.7" r="3.85" fill="#b8c054" stroke="#8f9f37" stroke-width="1.0"/>
<circle cx="297.0" cy="392.2" r="2.2" fill="#b8c054" stroke="#8f9f37" stroke-width="0.6"/>
<circle cx="313.1" cy="398.0" r="4.29" fill="#de272c" stroke="#7a1115" stroke-width="1.0"/>
<circle cx="336.0" cy="410.6" r="4.29" fill="#b8c054" stroke="#8f9f37" stroke-width="1.0"/>
<circle cx="295.4" cy="355.6" r="4.18" fill="#b8c054" stroke="#8f9f37" stroke-width="1.0"/>
<circle cx="315.9" cy="361.5" r="1.5" fill="#b8c054" stroke="#8f9f37" stroke-width="0.6"/>
<circle cx="319.4" cy="362.8" r="1.6" fill="#b8c054" stroke="#8f9f37" stroke-width="0.6"/>
<circle cx="326.4" cy="365.7" r="3.3" fill="#de272c" stroke="#7a1115" stroke-width="1.0"/>
<circle cx="337.2" cy="370.7" r="4.18" fill="#de272c" stroke="#7a1115" stroke-width="1.0"/>
<circle cx="344.2" cy="374.5" r="1.7" fill="#9c9c92" stroke="#6d6d66" stroke-width="0.6"/>
<circle cx="350.2" cy="378.1" r="1.7" fill="#9c9c92" stroke="#6d6d66" stroke-width="0.6"/>
<circle cx="356.1" cy="381.9" r="4.29" fill="#b8c054" stroke="#8f9f37" stroke-width="1.0"/>
<circle cx="279.5" cy="499.3" r="1.3" fill="#9c9c92" stroke="#6d6d66" stroke-width="0.6"/>
<circle cx="301.4" cy="471.9" r="1.0" fill="#9c9c92" stroke="#6d6d66" stroke-width="0.6"/>
<circle cx="323.2" cy="444.6" r="1.7" fill="#9c9c92" stroke="#6d6d66" stroke-width="0.6"/>
<circle cx="398.9" cy="423.4" r="2.0" fill="#cdc67e" stroke="#8f7f3c" stroke-width="0.6"/>
<circle cx="396.2" cy="419.8" r="2.0" fill="#cdc67e" stroke="#8f7f3c" stroke-width="0.6"/>
<circle cx="393.5" cy="416.4" r="2.0" fill="#cdc67e" stroke="#8f7f3c" stroke-width="0.6"/>
<circle cx="390.7" cy="413.0" r="2.0" fill="#cdc67e" stroke="#8f7f3c" stroke-width="0.6"/>
<circle cx="387.8" cy="409.6" r="2.0" fill="#cdc67e" stroke="#8f7f3c" stroke-width="0.6"/>
<circle cx="384.8" cy="406.4" r="2.0" fill="#cdc67e" stroke="#8f7f3c" stroke-width="0.6"/>
<circle cx="381.7" cy="403.2" r="2.0" fill="#cdc67e" stroke="#8f7f3c" stroke-width="0.6"/>
<circle cx="288.7" cy="510.6" r="4.29" fill="#de272c" stroke="#7a1115" stroke-width="1.0"/>
<circle cx="319.8" cy="494.6" r="4.29" fill="#de272c" stroke="#7a1115" stroke-width="1.0"/>
<circle cx="329.0" cy="449.6" r="1.0" fill="#b8c054" stroke="#8f9f37" stroke-width="0.6"/>
<circle cx="336.9" cy="457.8" r="3.19" fill="#b8c054" stroke="#8f9f37" stroke-width="1.0"/>
<circle cx="347.5" cy="472.4" r="4.29" fill="#de272c" stroke="#7a1115" stroke-width="1.0"/>
<circle cx="357.9" cy="495.6" r="1.0" fill="#b8c054" stroke="#8f9f37" stroke-width="0.6"/>
<circle cx="362.1" cy="517.5" r="1.0" fill="#b8c054" stroke="#8f9f37" stroke-width="0.6"/>
<circle cx="376.4" cy="398.1" r="1.6" fill="#9c9c92" stroke="#6d6d66" stroke-width="0.6"/>
<circle cx="352.8" cy="423.9" r="1.0" fill="#9c9c92" stroke="#6d6d66" stroke-width="0.6"/>
<circle cx="364.3" cy="435.9" r="3.41" fill="#b8c054" stroke="#8f9f37" stroke-width="1.0"/>
<circle cx="378.0" cy="455.2" r="4.29" fill="#de272c" stroke="#7a1115" stroke-width="1.0"/>
<circle cx="407.2" cy="435.8" r="3.3" fill="#de272c" stroke="#7a1115" stroke-width="1.0"/>
<circle cx="411.1" cy="442.7" r="4.29" fill="#de272c" stroke="#7a1115" stroke-width="1.0"/>
<circle cx="405.9" cy="433.8" r="1.6" fill="#cdc67e" stroke="#8f7f3c" stroke-width="0.6"/>
<circle cx="385.1" cy="468.9" r="1.9" fill="#b8c054" stroke="#8f9f37" stroke-width="0.6"/>
<circle cx="391.5" cy="486.0" r="1.2" fill="#b8c054" stroke="#8f9f37" stroke-width="0.6"/>
<circle cx="395.3" cy="501.7" r="2.1" fill="#b8c054" stroke="#8f9f37" stroke-width="0.6"/>
<circle cx="396.3" cy="508.0" r="1.2" fill="#b8c054" stroke="#8f9f37" stroke-width="0.6"/>
<circle cx="417.2" cy="455.0" r="2.5" fill="#cdc67e" stroke="#8f7f3c" stroke-width="1.0"/>
<circle cx="422.3" cy="467.5" r="1.5" fill="#cdc67e" stroke="#8f7f3c" stroke-width="0.6"/>
<circle cx="429.7" cy="495.5" r="2.5" fill="#cdc67e" stroke="#8f7f3c" stroke-width="1.0"/>
<circle cx="425.7" cy="478.3" r="1.6" fill="#cdc67e" stroke="#8f7f3c" stroke-width="0.6"/>
<circle cx="424.6" cy="474.5" r="1.6" fill="#cdc67e" stroke="#8f7f3c" stroke-width="0.6"/>
<circle cx="423.4" cy="470.7" r="1.6" fill="#cdc67e" stroke="#8f7f3c" stroke-width="0.6"/>
<circle cx="396.9" cy="514.1" r="1.0" fill="#9c9c92" stroke="#6d6d66" stroke-width="0.6"/>
<circle cx="431.9" cy="512.5" r="1.4" fill="#9c9c92" stroke="#6d6d66" stroke-width="0.6"/>
<circle cx="292.1" cy="531.7" r="2.5" fill="#b8c054" stroke="#8f9f37" stroke-width="1.0"/>
<circle cx="280.0" cy="553.3" r="4.73" fill="#b8c054" stroke="#8f9f37" stroke-width="1.0"/>
<circle cx="320.7" cy="556.6" r="3.96" fill="#b8c054" stroke="#8f9f37" stroke-width="1.0"/>
<circle cx="307.6" cy="575.4" r="4.73" fill="#b8c054" stroke="#8f9f37" stroke-width="1.0"/>
<circle cx="298.7" cy="583.1" r="3.96" fill="#b8c054" stroke="#8f9f37" stroke-width="1.0"/>
<circle cx="282.9" cy="591.7" r="3.96" fill="#b8c054" stroke="#8f9f37" stroke-width="1.0"/>
<circle cx="265.7" cy="596.0" r="1.9" fill="#b8c054" stroke="#8f9f37" stroke-width="0.6"/>
<circle cx="359.8" cy="549.9" r="2.2" fill="#b8c054" stroke="#8f9f37" stroke-width="0.6"/>
<circle cx="358.4" cy="555.6" r="2.2" fill="#b8c054" stroke="#8f9f37" stroke-width="0.6"/>
<circle cx="354.4" cy="566.9" r="1.1" fill="#b8c054" stroke="#8f9f37" stroke-width="0.6"/>
<circle cx="347.2" cy="581.0" r="3.96" fill="#b8c054" stroke="#8f9f37" stroke-width="1.0"/>
<circle cx="337.0" cy="595.1" r="1.1" fill="#b8c054" stroke="#8f9f37" stroke-width="0.6"/>
<circle cx="394.0" cy="557.8" r="2.0" fill="#b8c054" stroke="#8f9f37" stroke-width="0.6"/>
<circle cx="428.1" cy="565.6" r="2.3" fill="#b8c054" stroke="#8f9f37" stroke-width="0.6"/>
<circle cx="392.1" cy="565.1" r="2.0" fill="#b8c054" stroke="#8f9f37" stroke-width="0.6"/>
<circle cx="390.4" cy="570.5" r="2.0" fill="#b8c054" stroke="#8f9f37" stroke-width="0.6"/>
<circle cx="425.6" cy="575.0" r="1.6" fill="#9c9c92" stroke="#6d6d66" stroke-width="0.6"/>
<circle cx="423.6" cy="581.4" r="2.0" fill="#b8c054" stroke="#8f9f37" stroke-width="0.6"/>
<circle cx="387.8" cy="577.8" r="1.5" fill="#9c9c92" stroke="#6d6d66" stroke-width="0.6"/>
<circle cx="416.5" cy="599.6" r="1.6" fill="#9c9c92" stroke="#6d6d66" stroke-width="0.6"/>
<circle cx="413.6" cy="605.7" r="1.6" fill="#9c9c92" stroke="#6d6d66" stroke-width="0.6"/>
<circle cx="376.5" cy="600.3" r="3.96" fill="#b8c054" stroke="#8f9f37" stroke-width="1.0"/>
<circle cx="401.9" cy="625.4" r="2.4" fill="#b8c054" stroke="#8f9f37" stroke-width="0.6"/>
<circle cx="403.4" cy="623.1" r="2.4" fill="#b8c054" stroke="#8f9f37" stroke-width="0.6"/>
<circle cx="404.9" cy="620.8" r="2.4" fill="#b8c054" stroke="#8f9f37" stroke-width="0.6"/>
<circle cx="362.8" cy="618.7" r="1.6" fill="#b8c054" stroke="#8f9f37" stroke-width="0.6"/>
<circle cx="389.6" cy="641.3" r="2.0" fill="#9c9c92" stroke="#6d6d66" stroke-width="0.6"/>
<circle cx="332.0" cy="600.5" r="4.73" fill="#b8c054" stroke="#8f9f37" stroke-width="1.0"/>
<circle cx="356.5" cy="625.5" r="4.73" fill="#b8c054" stroke="#8f9f37" stroke-width="1.0"/>
<circle cx="378.2" cy="653.2" r="4.62" fill="#b8c054" stroke="#8f9f37" stroke-width="1.0"/>
<circle cx="382.7" cy="648.7" r="3.52" fill="#b8c054" stroke="#8f9f37" stroke-width="1.0"/>
<circle cx="323.2" cy="608.4" r="3.96" fill="#b8c054" stroke="#8f9f37" stroke-width="1.0"/>
<circle cx="313.6" cy="615.3" r="1.1" fill="#b8c054" stroke="#8f9f37" stroke-width="0.6"/>
<circle cx="346.6" cy="634.5" r="3.63" fill="#b8c054" stroke="#8f9f37" stroke-width="1.0"/>
<circle cx="368.1" cy="662.1" r="4.29" fill="#b8c054" stroke="#8f9f37" stroke-width="1.0"/>
<circle cx="360.9" cy="667.7" r="2.0" fill="#9c9c92" stroke="#6d6d66" stroke-width="0.6"/>
<circle cx="345.0" cy="678.1" r="1.8" fill="#9c9c92" stroke="#6d6d66" stroke-width="0.6"/>
<circle cx="330.4" cy="646.0" r="1.2" fill="#9c9c92" stroke="#6d6d66" stroke-width="0.6"/>
<circle cx="295.5" cy="624.4" r="4.29" fill="#b8c054" stroke="#8f9f37" stroke-width="1.0"/>
<circle cx="292.1" cy="662.2" r="3.96" fill="#b8c054" stroke="#8f9f37" stroke-width="1.0"/>
<circle cx="307.0" cy="657.5" r="1.2" fill="#b8c054" stroke="#8f9f37" stroke-width="0.6"/>
<circle cx="318.4" cy="652.5" r="2.0" fill="#b8c054" stroke="#8f9f37" stroke-width="0.6"/>
<circle cx="300.4" cy="696.2" r="4.29" fill="#b8c054" stroke="#8f9f37" stroke-width="1.0"/>
<circle cx="330.9" cy="685.4" r="1.8" fill="#b8c054" stroke="#8f9f37" stroke-width="0.6"/>
<circle cx="333.9" cy="683.9" r="1.8" fill="#b8c054" stroke="#8f9f37" stroke-width="0.6"/>
<circle cx="336.9" cy="682.4" r="1.8" fill="#b8c054" stroke="#8f9f37" stroke-width="0.6"/>
<circle cx="322.5" cy="689.0" r="1.6" fill="#9c9c92" stroke="#6d6d66" stroke-width="0.6"/>
<circle cx="315.6" cy="691.6" r="1.3" fill="#9c9c92" stroke="#6d6d66" stroke-width="0.6"/>
<circle cx="318.5" cy="690.5" r="1.3" fill="#9c9c92" stroke="#6d6d66" stroke-width="0.6"/>
<circle cx="262.8" cy="631.4" r="1.0" fill="#9c9c92" stroke="#6d6d66" stroke-width="0.6"/>
<circle cx="271.0" cy="630.6" r="1.0" fill="#9c9c92" stroke="#6d6d66" stroke-width="0.6"/>
<circle cx="276.6" cy="629.7" r="1.5" fill="#9c9c92" stroke="#6d6d66" stroke-width="0.6"/>
<circle cx="265.3" cy="666.3" r="1.1" fill="#9c9c92" stroke="#6d6d66" stroke-width="0.6"/>
<circle cx="275.5" cy="665.3" r="1.1" fill="#9c9c92" stroke="#6d6d66" stroke-width="0.6"/>
<circle cx="283.0" cy="664.2" r="1.1" fill="#9c9c92" stroke="#6d6d66" stroke-width="0.6"/>
<circle cx="267.6" cy="701.2" r="1.6" fill="#9c9c92" stroke="#6d6d66" stroke-width="0.6"/>
<circle cx="279.1" cy="700.2" r="1.8" fill="#9c9c92" stroke="#6d6d66" stroke-width="0.6"/>
<circle cx="289.4" cy="698.6" r="2.0" fill="#9c9c92" stroke="#6d6d66" stroke-width="0.6"/>
<circle cx="257.5" cy="526.5" r="0.8" fill="#c9c9a0"/>
<text x="18.6" y="578.6" font-size="12.6" text-anchor="middle" fill="#2e4a36" stroke="#2e4a36" stroke-width="0.25" textLength="51" lengthAdjust="spacingAndGlyphs" transform="rotate(-101.3 18.6 574.2)">Firmicutes</text>
<text x="81.0" y="679.0" font-size="12.6" text-anchor="middle" fill="#1c5a33" stroke="#1c5a33" stroke-width="0.25" textLength="46" lengthAdjust="spacingAndGlyphs" transform="rotate(-130.0 81.0 674.6)">Clostridia</text>
<text x="80.4" y="655.4" font-size="12.6" text-anchor="middle" fill="#1c5a33" stroke="#1c5a33" stroke-width="0.25" textLength="59" lengthAdjust="spacingAndGlyphs" transform="rotate(-125.1 80.4 651.0)">Clostridiales</text>
<text x="76.8" y="623.0" font-size="12.6" text-anchor="middle" fill="#1c5a33" stroke="#1c5a33" stroke-width="0.25" textLength="84" lengthAdjust="spacingAndGlyphs" transform="rotate(-117.0 76.8 618.6)">Lachnospiraceae</text>
<text x="134.2" y="691.6" font-size="12.6" text-anchor="middle" fill="#1c5a33" stroke="#1c5a33" stroke-width="0.25" textLength="86" lengthAdjust="spacingAndGlyphs" transform="rotate(-142.5 134.2 687.2)">Ruminococcaceae</text>
<text x="55.3" y="533.0" font-size="12.6" text-anchor="middle" fill="#1c5a33" stroke="#1c5a33" stroke-width="0.25" textLength="94" lengthAdjust="spacingAndGlyphs" transform="rotate(-90.6 55.3 528.6)">Streptococcaceae</text>
<text x="71.3" y="539.8" font-size="10" text-anchor="middle" fill="#1c5a33" stroke="#1c5a33" stroke-width="0.25" transform="rotate(-93.0 71.3 536.3)">e</text>
<text x="109.2" y="376.3" font-size="12.6" text-anchor="middle" fill="#8e503e" stroke="#8e503e" stroke-width="0.25" textLength="45" lengthAdjust="spacingAndGlyphs" transform="rotate(-43.8 109.2 371.9)">Bacillales</text>
<text x="101.9" y="403.1" font-size="12.6" text-anchor="middle" fill="#85503f" stroke="#85503f" stroke-width="0.25" textLength="95" lengthAdjust="spacingAndGlyphs" transform="rotate(-50.6 101.9 398.7)">Staphylococcaceae</text>
<text x="100.2" y="635.3" font-size="9" text-anchor="middle" fill="#7a4a1a" stroke="#7a4a1a" stroke-width="0.25" transform="rotate(-123.9 100.2 632.2)">f</text>
<text x="149.5" y="680.5" font-size="9" text-anchor="middle" fill="#7a4a1a" stroke="#7a4a1a" stroke-width="0.25" transform="rotate(-144.4 149.5 677.3)">g</text>
<text x="339.0" y="344.4" font-size="12.6" text-anchor="middle" fill="#7a3a48" stroke="#7a3a48" stroke-width="0.25" textLength="110" lengthAdjust="spacingAndGlyphs" transform="rotate(23.6 339.0 340.0)">Porphyromonadaceae</text>
<text x="331.5" y="356.6" font-size="10" text-anchor="middle" fill="#8e2f2f" stroke="#8e2f2f" stroke-width="0.25" transform="rotate(23.1 331.5 353.1)">d</text>
<text x="343.7" y="362.3" font-size="10" text-anchor="middle" fill="#8e2f2f" stroke="#8e2f2f" stroke-width="0.25" transform="rotate(27.2 343.7 358.8)">c</text>
<text x="476.9" y="425.3" font-size="12.6" text-anchor="middle" fill="#8e2f2f" stroke="#8e2f2f" stroke-width="0.25" textLength="75" lengthAdjust="spacingAndGlyphs" transform="rotate(64.3 476.9 420.9)">Actinobacteria</text>
<text x="462.9" y="430.7" font-size="12.6" text-anchor="middle" fill="#8e2f2f" stroke="#8e2f2f" stroke-width="0.25" textLength="75" lengthAdjust="spacingAndGlyphs" transform="rotate(64.0 462.9 426.3)">Actinobacteria</text>
<text x="443.9" y="422.8" font-size="12.6" text-anchor="middle" fill="#8e2f2f" stroke="#8e2f2f" stroke-width="0.25" textLength="86" lengthAdjust="spacingAndGlyphs" transform="rotate(59.9 443.9 418.4)">Bifidobacteriales</text>
<text x="432.3" y="430.0" font-size="12.6" text-anchor="middle" fill="#8e2f2f" stroke="#8e2f2f" stroke-width="0.25" textLength="97" lengthAdjust="spacingAndGlyphs" transform="rotate(60.0 432.3 425.6)">Bifidobacteriaceae</text>
<text x="419.9" y="436.4" font-size="10.5" text-anchor="middle" fill="#b8282c" stroke="#b8282c" stroke-width="0.25" textLength="11.5" lengthAdjust="spacingAndGlyphs" transform="rotate(60.0 419.9 432.8)">ba</text>
</g>
<g id="pa">
<path d="M0 32.8H556.8V272" fill="none" stroke="#e2e2e2" stroke-width="1"/>
<rect x="43" y="75.5" width="99.6" height="48" fill="#e6e6e6"/>
<rect x="164.5" y="75.5" width="333.2" height="48" fill="#e6e6e6"/>
<rect x="43" y="171.5" width="99.6" height="48" fill="#e6e6e6"/>
<rect x="164.5" y="171.5" width="333.2" height="48" fill="#e6e6e6"/>
<rect x="43.2" y="85.0" width="95.3" height="14.4" fill="#f9b06c" stroke="#111" stroke-width="1.3"/>
<rect x="43.2" y="99.4" width="52.6" height="14.4" fill="#b4da63" stroke="#111" stroke-width="1.3"/>
<rect x="43.2" y="133.0" width="95.3" height="14.4" fill="#f9b06c" stroke="#111" stroke-width="1.3"/>
<rect x="43.2" y="147.4" width="28.4" height="14.4" fill="#7da7cf" stroke="#111" stroke-width="1.3"/>
<rect x="43.2" y="180.5" width="52.6" height="14.4" fill="#b4da63" stroke="#111" stroke-width="1.3"/>
<rect x="43.2" y="194.9" width="28.4" height="14.4" fill="#7da7cf" stroke="#111" stroke-width="1.3"/>
<text x="38.5" y="102.2" font-size="9.6" text-anchor="end" fill="#222" textLength="35.0" lengthAdjust="spacingAndGlyphs">OE : WT</text>
<text x="38.5" y="150.2" font-size="9.6" text-anchor="end" fill="#222" textLength="33.5" lengthAdjust="spacingAndGlyphs">OE : KO</text>
<text x="38.5" y="197.9" font-size="9.6" text-anchor="end" fill="#222" textLength="34.5" lengthAdjust="spacingAndGlyphs">WT : KO</text>
<path d="M43.2 242.8H143 M43.2 242.8v-4 M138.4 242.8v-4" stroke="#555" stroke-width="1" fill="none"/>
<text x="43.5" y="255.0" font-size="9.6" text-anchor="middle" fill="#222" textLength="14.0" lengthAdjust="spacingAndGlyphs">0.0</text>
<text x="138.4" y="255.0" font-size="9.6" text-anchor="middle" fill="#222" textLength="14.0" lengthAdjust="spacingAndGlyphs">0.2</text>
<text x="93.0" y="268.2" font-size="9.6" text-anchor="middle" fill="#222" textLength="91.0" lengthAdjust="spacingAndGlyphs">Mean proportion (%)</text>
<path d="M162.6 51V243" stroke="#777" stroke-width="1.1" stroke-dasharray="5.5 3.5" fill="none"/>
<text x="162.6" y="255.0" font-size="9.6" text-anchor="middle" fill="#222" textLength="19.5" lengthAdjust="spacingAndGlyphs">0.00</text>
<text x="199.8" y="255.0" font-size="9.6" text-anchor="middle" fill="#222" textLength="19.5" lengthAdjust="spacingAndGlyphs">0.02</text>
<text x="237.0" y="255.0" font-size="9.6" text-anchor="middle" fill="#222" textLength="19.5" lengthAdjust="spacingAndGlyphs">0.04</text>
<text x="274.3" y="255.0" font-size="9.6" text-anchor="middle" fill="#222" textLength="19.5" lengthAdjust="spacingAndGlyphs">0.06</text>
<text x="311.5" y="255.0" font-size="9.6" text-anchor="middle" fill="#222" textLength="19.5" lengthAdjust="spacingAndGlyphs">0.08</text>
<text x="348.7" y="255.0" font-size="9.6" text-anchor="middle" fill="#222" textLength="19.5" lengthAdjust="spacingAndGlyphs">0.10</text>
<text x="385.9" y="255.0" font-size="9.6" text-anchor="middle" fill="#222" textLength="19.5" lengthAdjust="spacingAndGlyphs">0.12</text>
<text x="423.1" y="255.0" font-size="9.6" text-anchor="middle" fill="#222" textLength="19.5" lengthAdjust="spacingAndGlyphs">0.14</text>
<text x="460.4" y="255.0" font-size="9.6" text-anchor="middle" fill="#222" textLength="19.5" lengthAdjust="spacingAndGlyphs">0.16</text>
<text x="497.6" y="255.0" font-size="9.6" text-anchor="middle" fill="#222" textLength="19.5" lengthAdjust="spacingAndGlyphs">0.18</text>
<path d="M162.6 242.8H497.8 M162.6 242.8v-4 M199.8 242.8v-4 M237.0 242.8v-4 M274.3 242.8v-4 M311.5 242.8v-4 M348.7 242.8v-4 M385.9 242.8v-4 M423.1 242.8v-4 M460.4 242.8v-4 M497.6 242.8v-4 " stroke="#555" stroke-width="1" fill="none"/>
<text x="330.0" y="268.2" font-size="9.6" text-anchor="middle" fill="#222" textLength="155.0" lengthAdjust="spacingAndGlyphs">Difference in mean proportions (%)</text>
<path d="M229.8 99.6H378.5 M229.8 96.0v7.2 M378.5 96.0v7.2" stroke="#222" stroke-width="1.3" fill="none"/>
<circle cx="304.0" cy="99.6" r="3.2" fill="#e6bb90" stroke="#3a2e22" stroke-width="0.9"/>
<path d="M312.0 147.5H461.5 M312.0 143.9v7.2 M461.5 143.9v7.2" stroke="#222" stroke-width="1.3" fill="none"/>
<circle cx="386.7" cy="147.5" r="3.2" fill="#e6bb90" stroke="#3a2e22" stroke-width="0.9"/>
<path d="M170.6 195.0H319.5 M170.6 191.4v7.2 M319.5 191.4v7.2" stroke="#222" stroke-width="1.3" fill="none"/>
<circle cx="244.9" cy="195.0" r="3.2" fill="#bfd48a" stroke="#3a2e22" stroke-width="0.9"/>
<text x="504.0" y="102.6" font-size="9.6" text-anchor="start" fill="#222" textLength="31.0" lengthAdjust="spacingAndGlyphs">&lt;0.001</text>
<text x="504.0" y="150.6" font-size="9.6" text-anchor="start" fill="#222" textLength="31.0" lengthAdjust="spacingAndGlyphs">&lt;0.001</text>
<text x="504.0" y="198.3" font-size="9.6" text-anchor="start" fill="#222" textLength="25.0" lengthAdjust="spacingAndGlyphs">&lt;0.05</text>
<text x="546.0" y="149.9" font-size="9.6" text-anchor="middle" fill="#222" textLength="33.0" lengthAdjust="spacingAndGlyphs" transform="rotate(-90 546.0 146.5)">p-value</text>
<text x="0.5" y="39.7" font-size="9.6" text-anchor="start" fill="#222" textLength="364.0" lengthAdjust="spacingAndGlyphs">k__Bacteria|p__Actinobacteria|c__Acidimicrobiia|o__Acidimicrobiales|f__AKIW874|g</text>
<text x="330.0" y="47.0" font-size="9.6" text-anchor="middle" fill="#222" textLength="112.0" lengthAdjust="spacingAndGlyphs">95% confidence intervals</text>
</g>
<g id="pb">
<path d="M585 228.3H680.8" stroke="#8aa4bd" stroke-width="1.0"/>
<path d="M680 95.1H776.6" stroke="#f0b47e" stroke-width="1.2"/>
<path d="M776 179H875" stroke="#b6d192" stroke-width="1.0"/>
<rect x="588.4" y="207.7" width="7.4" height="76.9" fill="#7da7cf" stroke="#111" stroke-width="1.1"/>
<text x="594.4" y="296.5" font-size="5.8" text-anchor="middle" fill="#222" textLength="12.4" lengthAdjust="spacingAndGlyphs" transform="rotate(-90 594.4 294.4)">KO1</text>
<rect x="604.4" y="198.0" width="7.4" height="86.6" fill="#7da7cf" stroke="#111" stroke-width="1.1"/>
<text x="610.4" y="296.5" font-size="5.8" text-anchor="middle" fill="#222" textLength="12.4" lengthAdjust="spacingAndGlyphs" transform="rotate(-90 610.4 294.4)">KO2</text>
<rect x="620.4" y="265.2" width="7.4" height="19.4" fill="#7da7cf" stroke="#111" stroke-width="1.1"/>
<text x="626.4" y="296.5" font-size="5.8" text-anchor="middle" fill="#222" textLength="12.4" lengthAdjust="spacingAndGlyphs" transform="rotate(-90 626.4 294.4)">KO3</text>
<rect x="636.4" y="210.6" width="7.4" height="74.0" fill="#7da7cf" stroke="#111" stroke-width="1.1"/>
<text x="642.4" y="296.5" font-size="5.8" text-anchor="middle" fill="#222" textLength="12.4" lengthAdjust="spacingAndGlyphs" transform="rotate(-90 642.4 294.4)">KO4</text>
<rect x="652.4" y="246.7" width="7.4" height="37.9" fill="#7da7cf" stroke="#111" stroke-width="1.1"/>
<text x="658.4" y="296.5" font-size="5.8" text-anchor="middle" fill="#222" textLength="12.4" lengthAdjust="spacingAndGlyphs" transform="rotate(-90 658.4 294.4)">KO5</text>
<rect x="668.4" y="241.5" width="7.4" height="43.1" fill="#7da7cf" stroke="#111" stroke-width="1.1"/>
<text x="674.4" y="296.5" font-size="5.8" text-anchor="middle" fill="#222" textLength="12.4" lengthAdjust="spacingAndGlyphs" transform="rotate(-90 674.4 294.4)">KO6</text>
<rect x="684.4" y="56.9" width="7.4" height="227.7" fill="#f4b06c" stroke="#111" stroke-width="1.1"/>
<text x="690.4" y="296.5" font-size="5.8" text-anchor="middle" fill="#222" textLength="12.4" lengthAdjust="spacingAndGlyphs" transform="rotate(-90 690.4 294.4)">OE1</text>
<rect x="700.4" y="77.4" width="7.4" height="207.2" fill="#f4b06c" stroke="#111" stroke-width="1.1"/>
<text x="706.4" y="296.5" font-size="5.8" text-anchor="middle" fill="#222" textLength="12.4" lengthAdjust="spacingAndGlyphs" transform="rotate(-90 706.4 294.4)">OE2</text>
<rect x="716.4" y="120.1" width="7.4" height="164.5" fill="#f4b06c" stroke="#111" stroke-width="1.1"/>
<text x="722.4" y="296.5" font-size="5.8" text-anchor="middle" fill="#222" textLength="12.4" lengthAdjust="spacingAndGlyphs" transform="rotate(-90 722.4 294.4)">OE3</text>
<rect x="732.4" y="120.1" width="7.4" height="164.5" fill="#f4b06c" stroke="#111" stroke-width="1.1"/>
<text x="738.4" y="296.5" font-size="5.8" text-anchor="middle" fill="#222" textLength="12.4" lengthAdjust="spacingAndGlyphs" transform="rotate(-90 738.4 294.4)">OE4</text>
<rect x="748.4" y="98.9" width="7.4" height="185.7" fill="#f4b06c" stroke="#111" stroke-width="1.1"/>
<text x="754.4" y="296.5" font-size="5.8" text-anchor="middle" fill="#222" textLength="12.4" lengthAdjust="spacingAndGlyphs" transform="rotate(-90 754.4 294.4)">OE5</text>
<rect x="764.4" y="95.9" width="7.4" height="188.7" fill="#f4b06c" stroke="#111" stroke-width="1.1"/>
<text x="770.4" y="296.5" font-size="5.8" text-anchor="middle" fill="#222" textLength="12.4" lengthAdjust="spacingAndGlyphs" transform="rotate(-90 770.4 294.4)">OE6</text>
<rect x="780.4" y="137.9" width="7.4" height="146.7" fill="#b4da63" stroke="#111" stroke-width="1.1"/>
<text x="786.4" y="296.5" font-size="5.8" text-anchor="middle" fill="#222" textLength="12.4" lengthAdjust="spacingAndGlyphs" transform="rotate(-90 786.4 294.4)">WT1</text>
<rect x="796.4" y="237.0" width="7.4" height="47.6" fill="#b4da63" stroke="#111" stroke-width="1.1"/>
<text x="802.4" y="296.5" font-size="5.8" text-anchor="middle" fill="#222" textLength="12.4" lengthAdjust="spacingAndGlyphs" transform="rotate(-90 802.4 294.4)">WT2</text>
<rect x="812.4" y="202.8" width="7.4" height="81.8" fill="#b4da63" stroke="#111" stroke-width="1.1"/>
<text x="818.4" y="296.5" font-size="5.8" text-anchor="middle" fill="#222" textLength="12.4" lengthAdjust="spacingAndGlyphs" transform="rotate(-90 818.4 294.4)">WT3</text>
<rect x="828.4" y="183.5" width="7.4" height="101.1" fill="#b4da63" stroke="#111" stroke-width="1.1"/>
<text x="834.4" y="296.5" font-size="5.8" text-anchor="middle" fill="#222" textLength="12.4" lengthAdjust="spacingAndGlyphs" transform="rotate(-90 834.4 294.4)">WT4</text>
<rect x="844.4" y="157.9" width="7.4" height="126.7" fill="#b4da63" stroke="#111" stroke-width="1.1"/>
<text x="850.4" y="296.5" font-size="5.8" text-anchor="middle" fill="#222" textLength="12.4" lengthAdjust="spacingAndGlyphs" transform="rotate(-90 850.4 294.4)">WT5</text>
<rect x="860.4" y="155.3" width="7.4" height="129.3" fill="#b4da63" stroke="#111" stroke-width="1.1"/>
<text x="866.4" y="296.5" font-size="5.8" text-anchor="middle" fill="#222" textLength="12.4" lengthAdjust="spacingAndGlyphs" transform="rotate(-90 866.4 294.4)">WT6</text>
<path d="M584.5 7V285.5H875" stroke="#6e6e6e" stroke-width="1.2" fill="none"/>
<text x="582.6" y="287.1" font-size="6.4" text-anchor="end" fill="#222" textLength="14.0" lengthAdjust="spacingAndGlyphs">0.00</text>
<text x="582.6" y="231.8" font-size="6.4" text-anchor="end" fill="#222" textLength="14.0" lengthAdjust="spacingAndGlyphs">0.05</text>
<text x="582.6" y="176.5" font-size="6.4" text-anchor="end" fill="#222" textLength="14.0" lengthAdjust="spacingAndGlyphs">0.10</text>
<text x="582.6" y="121.2" font-size="6.4" text-anchor="end" fill="#222" textLength="14.0" lengthAdjust="spacingAndGlyphs">0.15</text>
<text x="582.6" y="65.9" font-size="6.4" text-anchor="end" fill="#222" textLength="14.0" lengthAdjust="spacingAndGlyphs">0.20</text>
<text x="582.6" y="10.6" font-size="6.4" text-anchor="end" fill="#222" textLength="14.0" lengthAdjust="spacingAndGlyphs">0.25</text>
<text x="562.0" y="148.1" font-size="5.8" text-anchor="middle" fill="#333" textLength="85.0" lengthAdjust="spacingAndGlyphs" transform="rotate(-90 562.0 146.0)">Proportion of sequences (%)</text>
<text x="729.5" y="5.9" font-size="5.8" text-anchor="middle" fill="#333" textLength="155.0" lengthAdjust="spacingAndGlyphs">k__Bacteria|p__Actinobacteria|c__Acidimicrobiia|o_...</text>
<text x="836.0" y="6.8" font-size="5.9" text-anchor="start" fill="#222" textLength="35.0" lengthAdjust="spacingAndGlyphs">p = 3.28e-3</text>
<rect x="840.6" y="14.1" width="11" height="4.4" fill="#7da7cf" stroke="#111" stroke-width="1.2"/>
<text x="856.8" y="18.4" font-size="5.8" text-anchor="start" fill="#333" textLength="9.0" lengthAdjust="spacingAndGlyphs">KO</text>
<rect x="840.6" y="22.8" width="11" height="4.4" fill="#f4b06c" stroke="#111" stroke-width="1.2"/>
<text x="856.8" y="27.1" font-size="5.8" text-anchor="start" fill="#333" textLength="9.0" lengthAdjust="spacingAndGlyphs">OE</text>
<rect x="840.6" y="31.5" width="11" height="4.4" fill="#b4da63" stroke="#111" stroke-width="1.2"/>
<text x="856.8" y="35.8" font-size="5.8" text-anchor="start" fill="#333" textLength="9.0" lengthAdjust="spacingAndGlyphs">WT</text>
</g>
<g id="pd">
<rect x="657.6" y="407.3" width="210.7" height="13.4" fill="#1e7a44" stroke="#0c4a25" stroke-width="1.5"/>
<text x="653.8" y="419.5" font-size="15.5" text-anchor="end" fill="#2b2b2b" textLength="85.0" lengthAdjust="spacingAndGlyphs">Clostridiales</text>
<rect x="657.6" y="424.8" width="210.7" height="13.4" fill="#1e7a44" stroke="#0c4a25" stroke-width="1.5"/>
<text x="653.8" y="437.0" font-size="15.5" text-anchor="end" fill="#2b2b2b" textLength="64.5" lengthAdjust="spacingAndGlyphs">Clostridia</text>
<rect x="657.6" y="442.2" width="209.4" height="13.4" fill="#1e7a44" stroke="#0c4a25" stroke-width="1.5"/>
<text x="653.8" y="454.4" font-size="15.5" text-anchor="end" fill="#2b2b2b" textLength="70.5" lengthAdjust="spacingAndGlyphs">Firmicutes</text>
<rect x="657.6" y="459.7" width="191.2" height="13.4" fill="#1e7a44" stroke="#0c4a25" stroke-width="1.5"/>
<text x="653.8" y="471.9" font-size="15.5" text-anchor="end" fill="#2b2b2b" textLength="116.0" lengthAdjust="spacingAndGlyphs">Lachnospiraceae</text>
<rect x="657.6" y="477.2" width="174.1" height="13.4" fill="#1e7a44" stroke="#0c4a25" stroke-width="1.5"/>
<text x="653.8" y="489.4" font-size="15.5" text-anchor="end" fill="#2b2b2b" textLength="125.0" lengthAdjust="spacingAndGlyphs">Ruminococcaceae</text>
<rect x="657.6" y="494.7" width="154.2" height="13.4" fill="#1e7a44" stroke="#0c4a25" stroke-width="1.5"/>
<text x="653.8" y="506.9" font-size="15.5" text-anchor="end" fill="#2b2b2b" textLength="123.5" lengthAdjust="spacingAndGlyphs">Streptococcaceae</text>
<rect x="657.6" y="512.1" width="153.3" height="13.4" fill="#1e7a44" stroke="#0c4a25" stroke-width="1.5"/>
<text x="653.8" y="524.3" font-size="15.5" text-anchor="end" fill="#2b2b2b" textLength="98.0" lengthAdjust="spacingAndGlyphs">Streptococcus</text>
<rect x="507.1" y="529.6" width="150.5" height="13.4" fill="#e5282a" stroke="#6e1212" stroke-width="1.5"/>
<text x="662.8" y="541.8" font-size="15.5" text-anchor="start" fill="#2b2b2b" textLength="134.0" lengthAdjust="spacingAndGlyphs">Staphylococcaceae</text>
<rect x="505.3" y="547.1" width="152.3" height="13.4" fill="#e5282a" stroke="#6e1212" stroke-width="1.5"/>
<text x="662.8" y="559.3" font-size="15.5" text-anchor="start" fill="#2b2b2b" textLength="65.0" lengthAdjust="spacingAndGlyphs">Bacillales</text>
<rect x="503.9" y="564.5" width="153.7" height="13.4" fill="#e5282a" stroke="#6e1212" stroke-width="1.5"/>
<text x="662.8" y="576.7" font-size="15.5" text-anchor="start" fill="#2b2b2b" textLength="111.5" lengthAdjust="spacingAndGlyphs">Parabacteroides</text>
<rect x="498.0" y="582.0" width="159.6" height="13.4" fill="#e5282a" stroke="#6e1212" stroke-width="1.5"/>
<text x="662.8" y="594.2" font-size="15.5" text-anchor="start" fill="#2b2b2b" textLength="68.0" lengthAdjust="spacingAndGlyphs">Roseburia</text>
<rect x="481.3" y="599.5" width="176.3" height="13.4" fill="#e5282a" stroke="#6e1212" stroke-width="1.5"/>
<text x="662.8" y="611.7" font-size="15.5" text-anchor="start" fill="#2b2b2b" textLength="75.0" lengthAdjust="spacingAndGlyphs">Barnesiella</text>
<rect x="479.0" y="616.9" width="178.6" height="13.4" fill="#e5282a" stroke="#6e1212" stroke-width="1.5"/>
<text x="662.8" y="629.1" font-size="15.5" text-anchor="start" fill="#2b2b2b" textLength="100.0" lengthAdjust="spacingAndGlyphs">Metascardovia</text>
<rect x="478.0" y="634.4" width="179.6" height="13.4" fill="#e5282a" stroke="#6e1212" stroke-width="1.5"/>
<text x="662.8" y="646.6" font-size="15.5" text-anchor="start" fill="#2b2b2b" textLength="84.0" lengthAdjust="spacingAndGlyphs">Papillibacter</text>
<rect x="475.7" y="651.9" width="181.9" height="13.4" fill="#e5282a" stroke="#6e1212" stroke-width="1.5"/>
<text x="662.8" y="664.1" font-size="15.5" text-anchor="start" fill="#2b2b2b" textLength="99.0" lengthAdjust="spacingAndGlyphs">Actinobacteria</text>
<rect x="475.7" y="669.3" width="181.9" height="13.4" fill="#e5282a" stroke="#6e1212" stroke-width="1.5"/>
<text x="662.8" y="681.6" font-size="15.5" text-anchor="start" fill="#2b2b2b" textLength="99.0" lengthAdjust="spacingAndGlyphs">Actinobacteria</text>
<rect x="475.2" y="686.8" width="182.4" height="13.4" fill="#e5282a" stroke="#6e1212" stroke-width="1.5"/>
<text x="662.8" y="699.0" font-size="15.5" text-anchor="start" fill="#2b2b2b" textLength="129.0" lengthAdjust="spacingAndGlyphs">Bifidobacteriaceae</text>
<rect x="471.4" y="704.3" width="186.2" height="13.4" fill="#e5282a" stroke="#6e1212" stroke-width="1.5"/>
<text x="662.8" y="716.5" font-size="15.5" text-anchor="start" fill="#2b2b2b" textLength="151.0" lengthAdjust="spacingAndGlyphs">Porphyromonadaceae</text>
<rect x="462.8" y="721.8" width="194.8" height="13.4" fill="#e5282a" stroke="#6e1212" stroke-width="1.5"/>
<text x="662.8" y="734.0" font-size="15.5" text-anchor="start" fill="#2b2b2b" textLength="109.5" lengthAdjust="spacingAndGlyphs">Bifidobacterium</text>
<path d="M494.4 519V741" stroke="#555" stroke-width="0.9" stroke-dasharray="1.2 3" fill="none"/>
<path d="M494.4 741v4" stroke="#444" stroke-width="0.9" fill="none"/>
<path d="M576.0 403V741" stroke="#555" stroke-width="0.9" stroke-dasharray="1.2 3" fill="none"/>
<path d="M576.0 398v4.5 M576.0 741v4" stroke="#444" stroke-width="0.9" fill="none"/>
<path d="M657.6 403V741" stroke="#555" stroke-width="0.9" stroke-dasharray="1.2 3" fill="none"/>
<path d="M657.6 398v4.5 M657.6 741v4" stroke="#444" stroke-width="0.9" fill="none"/>
<path d="M739.2 403V741" stroke="#555" stroke-width="0.9" stroke-dasharray="1.2 3" fill="none"/>
<path d="M739.2 398v4.5 M739.2 741v4" stroke="#444" stroke-width="0.9" fill="none"/>
<path d="M820.8 403V741" stroke="#555" stroke-width="0.9" stroke-dasharray="1.2 3" fill="none"/>
<path d="M820.8 398v4.5 M820.8 741v4" stroke="#444" stroke-width="0.9" fill="none"/>
<text x="492.4" y="760.1" font-size="15.5" text-anchor="middle" fill="#2b2b2b">−4</text>
<text x="574.0" y="760.1" font-size="15.5" text-anchor="middle" fill="#2b2b2b">−2</text>
<text x="657.6" y="760.1" font-size="15.5" text-anchor="middle" fill="#2b2b2b">0</text>
<text x="739.2" y="760.1" font-size="15.5" text-anchor="middle" fill="#2b2b2b">2</text>
<text x="820.8" y="760.1" font-size="15.5" text-anchor="middle" fill="#2b2b2b">4</text>
<text x="658.5" y="776.5" font-size="17" text-anchor="middle" fill="#2b2b2b" textLength="164.5" lengthAdjust="spacingAndGlyphs">LDA SCORE (log 10)</text>
<rect x="496.4" y="309.3" width="21" height="7" rx="0.8" fill="#c9383b" stroke="#3c1212" stroke-width="1.4"/>
<text x="525.4" y="316.7" font-size="10.4" text-anchor="start" fill="#333" textLength="93.5" lengthAdjust="spacingAndGlyphs">a: Bifidobacterium</text>
<rect x="496.4" y="321.9" width="21" height="7" rx="0.8" fill="#c9383b" stroke="#3c1212" stroke-width="1.4"/>
<text x="525.4" y="329.3" font-size="10.4" text-anchor="start" fill="#333" textLength="87.0" lengthAdjust="spacingAndGlyphs">b: Metascardovia</text>
<rect x="496.4" y="334.5" width="21" height="7" rx="0.8" fill="#c9383b" stroke="#3c1212" stroke-width="1.4"/>
<text x="525.4" y="341.9" font-size="10.4" text-anchor="start" fill="#333" textLength="68.0" lengthAdjust="spacingAndGlyphs">c: Barnesiella</text>
<rect x="496.4" y="347.0" width="21" height="7" rx="0.8" fill="#c9383b" stroke="#3c1212" stroke-width="1.4"/>
<text x="525.4" y="354.4" font-size="10.4" text-anchor="start" fill="#333" textLength="94.5" lengthAdjust="spacingAndGlyphs">d: Parabacteroides</text>
<rect x="496.4" y="359.6" width="21" height="7" rx="0.8" fill="#1e7a44" stroke="#0b2f1b" stroke-width="1.4"/>
<text x="525.4" y="367.0" font-size="10.4" text-anchor="start" fill="#333" textLength="85.0" lengthAdjust="spacingAndGlyphs">e: Streptococcus</text>
<rect x="496.4" y="372.2" width="21" height="7" rx="0.8" fill="#c9383b" stroke="#3c1212" stroke-width="1.4"/>
<text x="525.4" y="379.6" font-size="10.4" text-anchor="start" fill="#333" textLength="59.6" lengthAdjust="spacingAndGlyphs">f: Roseburia</text>
<rect x="496.4" y="384.8" width="21" height="7" rx="0.8" fill="#c9383b" stroke="#3c1212" stroke-width="1.4"/>
<text x="525.4" y="392.2" font-size="10.4" text-anchor="start" fill="#333" textLength="75.5" lengthAdjust="spacingAndGlyphs">g: Papillibacter</text>
<rect x="678.6" y="319.8" width="37.4" height="14" fill="#1e7a44" stroke="#0c4a25" stroke-width="1.3"/>
<rect x="678.6" y="352.6" width="37.4" height="13.8" fill="#e5282a" stroke="#6e1212" stroke-width="1.3"/>
<text x="720.2" y="333.2" font-size="19.6" fill="#2b2b2b" textLength="46.3" lengthAdjust="spacingAndGlyphs">T-bet</text>
<text x="769.8" y="328.3" font-size="17" fill="#2b2b2b" textLength="18.5" lengthAdjust="spacingAndGlyphs">-/-</text>
<text x="790.0" y="333.2" font-size="19.6" fill="#2b2b2b" textLength="56.2" lengthAdjust="spacingAndGlyphs">xRag2</text>
<text x="849.4" y="328.3" font-size="17" fill="#2b2b2b" textLength="18.5" lengthAdjust="spacingAndGlyphs">-/-</text>
<text x="719.8" y="364.8" font-size="19.6" fill="#2b2b2b" textLength="46.4" lengthAdjust="spacingAndGlyphs">Rag2</text>
<text x="769.2" y="360.2" font-size="16.5" fill="#2b2b2b" textLength="17.4" lengthAdjust="spacingAndGlyphs">-/-</text>
</g>
</svg></body></html>
